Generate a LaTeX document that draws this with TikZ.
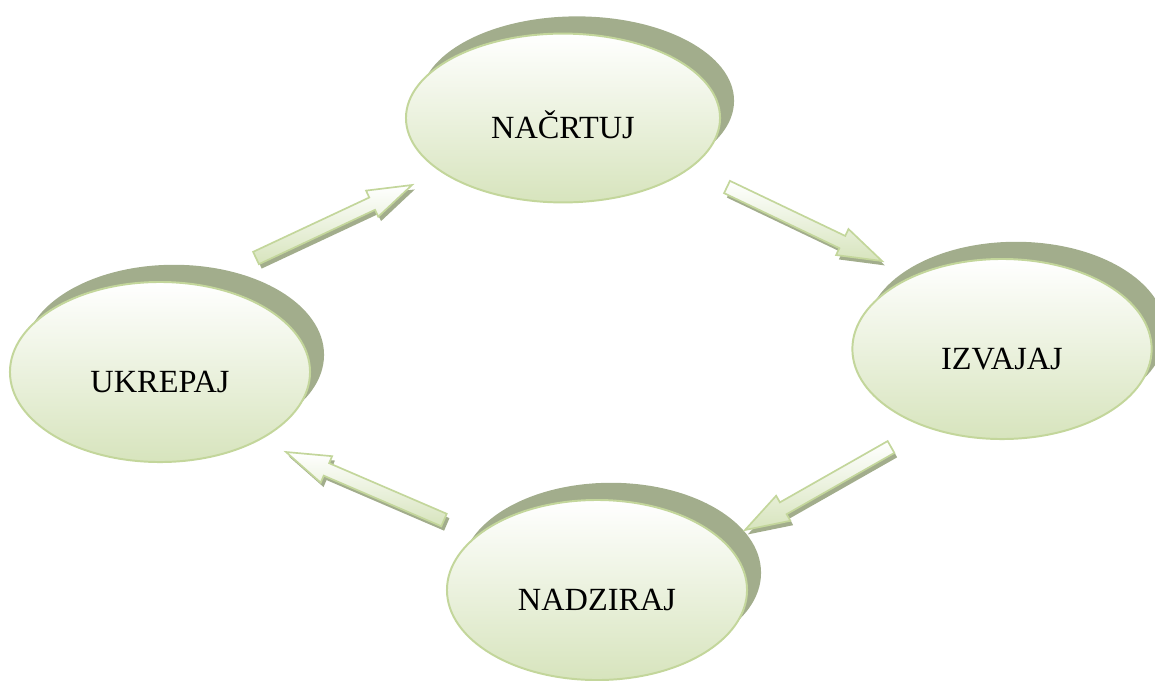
\documentclass[tikz,border=0pt]{standalone}
\usepackage{fontspec}
\setmainfont{Liberation Serif}
\usetikzlibrary{shapes.geometric,shadows,calc}

\definecolor{rimgreen}{HTML}{C3D69B}
\definecolor{lightgreen}{HTML}{D7E4BD}
\definecolor{shadowgreen}{HTML}{A2AD8C}

\tikzset{
  stage/.style={ellipse, draw=rimgreen, line width=1.4pt,
    top color=white, bottom color=lightgreen, inner sep=0pt,
    text height=1cm, text depth=0pt, font=\fontsize{23}{27}\selectfont,
    drop shadow={shadow xshift=0.35cm, shadow yshift=0.43cm,
      fill=shadowgreen, opacity=1}},
  arrowbody/.style={draw=rimgreen, line width=1.2pt, line join=miter,
    top color=white, bottom color=lightgreen,
    drop shadow={shadow xshift=0.07cm, shadow yshift=-0.11cm,
      fill=shadowgreen, opacity=1}}
}

% block arrow from #1 (tail) to #2 (tip)
\newcommand\flowarrow[2]{%
  \draw[arrowbody] ($(#1)!0.17cm!90:(#2)$)
    -- ($(#2)!1.1cm!(#1)!0.17cm!-90:(#1)$)
    -- ($(#2)!1.1cm!(#1)!0.36cm!-90:(#1)$)
    -- (#2)
    -- ($(#2)!1.1cm!(#1)!0.36cm!90:(#1)$)
    -- ($(#2)!1.1cm!(#1)!0.17cm!90:(#1)$)
    -- ($(#1)!0.17cm!-90:(#2)$) -- cycle;}

\begin{document}
\begin{tikzpicture}[x=0.025cm,y=-0.025cm]
  \useasboundingbox (0,0) rectangle (1155,680);

  \node[stage, minimum width=7.85cm, minimum height=4.22cm] (nacrtuj) at (563,118) {NAČRTUJ};
  \node[stage, minimum width=7.48cm, minimum height=4.5cm] (izvajaj) at (1002,349) {IZVAJAJ};
  \node[stage, minimum width=7.5cm, minimum height=4.5cm] (nadziraj) at (597,590) {NADZIRAJ};
  \node[stage, minimum width=7.5cm, minimum height=4.5cm] (ukrepaj) at (160,372) {UKREPAJ};

  % arrow ends, relative to the stages
  \coordinate (u-n) at ($(ukrepaj)+(96,-114)$);
  \coordinate (n-u) at ($(nacrtuj)+(-151,67)$);
  \coordinate (n-i) at ($(nacrtuj)+(164,69)$);
  \coordinate (i-n) at ($(izvajaj)+(-120,-88)$);
  \coordinate (i-d) at ($(izvajaj)+(-111,98)$);
  \coordinate (d-i) at ($(nadziraj)+(148,-60)$);
  \coordinate (d-u) at ($(nadziraj)+(-153,-70)$);
  \coordinate (u-d) at ($(ukrepaj)+(126,80)$);

  \flowarrow{u-n}{n-u}
  \flowarrow{n-i}{i-n}
  \flowarrow{i-d}{d-i}
  \flowarrow{d-u}{u-d}
\end{tikzpicture}
\end{document}
